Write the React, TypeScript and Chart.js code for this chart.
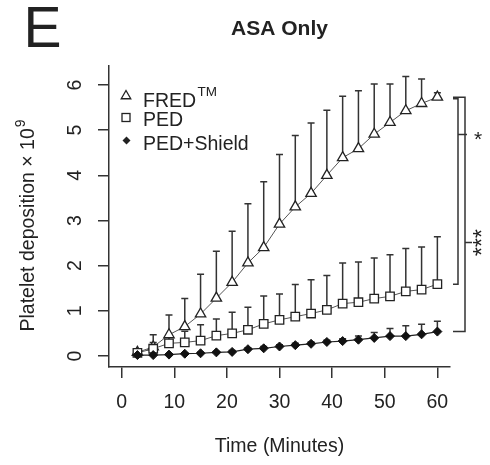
import React, { useEffect, useRef } from 'react';
import { Chart, registerables } from 'chart.js';

Chart.register(...registerables);

// ---- data ----
const times = [3, 6, 9, 12, 15, 18, 21, 24, 27, 30, 33, 36, 39, 42, 45, 48, 51, 54, 57, 60];
const fredMean = [0.08, 0.2, 0.47, 0.65, 0.93, 1.28, 1.63, 2.06, 2.4, 2.92, 3.3, 3.6, 4.0, 4.39, 4.59, 4.91, 5.17, 5.43, 5.59, 5.73];
const fredUpper = [0.15, 0.47, 0.91, 1.27, 1.81, 2.32, 2.76, 3.37, 3.86, 4.46, 4.88, 5.16, 5.44, 5.75, 5.87, 6.02, 6.02, 6.19, 6.13, 5.83];
const pedMean = [0.07, 0.16, 0.28, 0.3, 0.34, 0.45, 0.5, 0.58, 0.71, 0.8, 0.87, 0.94, 1.02, 1.16, 1.19, 1.27, 1.32, 1.43, 1.47, 1.59];
const pedUpper = [0.12, 0.3, 0.45, 0.55, 0.69, 0.82, 0.97, 1.08, 1.33, 1.37, 1.58, 1.69, 1.78, 2.06, 2.08, 2.17, 2.24, 2.38, 2.41, 2.64];
const shieldMean = [0.02, 0.02, 0.03, 0.05, 0.06, 0.08, 0.09, 0.15, 0.17, 0.21, 0.24, 0.27, 0.31, 0.33, 0.36, 0.4, 0.44, 0.44, 0.48, 0.54];
const shieldUpper = [0.03, 0.04, 0.05, 0.07, 0.08, 0.1, 0.12, 0.18, 0.21, 0.25, 0.28, 0.31, 0.35, 0.38, 0.44, 0.52, 0.61, 0.67, 0.7, 0.77];
const xTicks = [0, 10, 20, 30, 40, 50, 60];
const yTicks = [0, 1, 2, 3, 4, 5, 6];
const seriesNames = ['FRED', 'PED', 'PED+Shield'];
const fredSup = 'TM';
const panelLetter = 'E';
const chartTitle = 'ASA Only';
const xTitle = 'Time (Minutes)';
const yTitleMain = 'Platelet deposition \u00d7 10';
const yTitleSup = '9';
const sigInner = '*';
const sigOuter = '***';

const FONT = '"Liberation Sans", Arial, Helvetica, sans-serif';
const INK = '#222';
const uppers = [fredUpper, pedUpper, shieldUpper];

function tri(ctx: CanvasRenderingContext2D, x: number, y: number, r: number) {
  ctx.beginPath();
  ctx.moveTo(x, y - r);
  ctx.lineTo(x + r * Math.sin((2 * Math.PI) / 3), y + r * 0.5);
  ctx.lineTo(x - r * Math.sin((2 * Math.PI) / 3), y + r * 0.5);
  ctx.closePath();
}

const annotPlugin = {
  id: 'annot',
  beforeDatasetsDraw(chart: any) {
    const ctx = chart.ctx as CanvasRenderingContext2D;
    const xs = chart.scales.x;
    const ys = chart.scales.y;
    ctx.save();
    ctx.strokeStyle = '#333';
    ctx.lineWidth = 1.5;
    chart.data.datasets.forEach((ds: any, di: number) => {
      const up = uppers[di];
      ds.data.forEach((p: any, i: number) => {
        const x = xs.getPixelForValue(p.x);
        const y0 = ys.getPixelForValue(p.y);
        const y1 = ys.getPixelForValue(up[i]);
        ctx.beginPath();
        ctx.moveTo(x, y0);
        ctx.lineTo(x, y1);
        ctx.moveTo(x - 3.5, y1);
        ctx.lineTo(x + 3.5, y1);
        ctx.stroke();
      });
    });
    ctx.restore();
  },
  afterDraw(chart: any) {
    const ctx = chart.ctx as CanvasRenderingContext2D;
    const area = chart.chartArea;
    const ys = chart.scales.y;
    ctx.save();
    ctx.fillStyle = INK;
    ctx.strokeStyle = INK;
    // panel letter
    ctx.font = `57px ${FONT}`;
    ctx.textAlign = 'left';
    ctx.textBaseline = 'alphabetic';
    ctx.fillText(panelLetter, 23.5, 47);
    // title
    ctx.font = `bold 21px ${FONT}`;
    ctx.textAlign = 'center';
    ctx.fillText(chartTitle, (area.left + area.right) / 2, 35);
    // y title
    ctx.save();
    ctx.translate(34, 331.5);
    ctx.rotate(-Math.PI / 2);
    ctx.textAlign = 'left';
    ctx.font = `19.5px ${FONT}`;
    ctx.fillText(yTitleMain, 0, 0);
    const w = ctx.measureText(yTitleMain).width;
    ctx.font = `14px ${FONT}`;
    ctx.fillText(yTitleSup, w + 1, -9);
    ctx.restore();

    // legend
    ctx.lineWidth = 1.3;
    ctx.strokeStyle = INK;
    ctx.textAlign = 'left';
    ctx.font = `19.5px ${FONT}`;
    tri(ctx, 126, 96, 5.5);
    ctx.stroke();
    ctx.fillText(seriesNames[0], 143, 106.7);
    const fw = ctx.measureText(seriesNames[0]).width;
    ctx.font = `13.5px ${FONT}`;
    ctx.fillText(fredSup, 143 + fw + 1.5, 95.5);
    ctx.font = `19.5px ${FONT}`;
    ctx.strokeRect(122, 113.5, 8, 8);
    ctx.fillText(seriesNames[1], 143, 126);
    ctx.beginPath();
    ctx.moveTo(126.5, 136.5);
    ctx.lineTo(130.5, 140.5);
    ctx.lineTo(126.5, 144.5);
    ctx.lineTo(122.5, 140.5);
    ctx.closePath();
    ctx.fill();
    ctx.fillText(seriesNames[2], 143, 150);

    // significance brackets
    const n = times.length - 1;
    const yF = ys.getPixelForValue(fredMean[n]);
    const yP = ys.getPixelForValue(pedMean[n]);
    const yS = ys.getPixelForValue(shieldMean[n]);
    const x0 = area.right + 3;
    ctx.lineWidth = 1.5;
    ctx.strokeStyle = '#333';
    ctx.beginPath();
    // inner FRED vs PED
    ctx.moveTo(x0, yF + 1.5);
    ctx.lineTo(x0 + 5, yF + 1.5);
    ctx.lineTo(x0 + 5, yP);
    ctx.lineTo(x0, yP);
    const yMidI = yF + 0.2 * (yP - yF);
    ctx.moveTo(x0 + 5, yMidI);
    ctx.lineTo(x0 + 14, yMidI);
    // outer FRED vs Shield
    ctx.moveTo(x0, yF);
    ctx.lineTo(x0 + 12, yF);
    ctx.lineTo(x0 + 12, yS);
    ctx.lineTo(x0, yS);
    const yMidO = yF + 0.62 * (yS - yF);
    ctx.moveTo(x0 + 12, yMidO);
    ctx.lineTo(x0 + 19, yMidO);
    ctx.stroke();
    ctx.fillStyle = INK;
    ctx.font = `21px ${FONT}`;
    ctx.textAlign = 'center';
    ctx.textBaseline = 'alphabetic';
    ctx.fillText(sigInner, x0 + 25, yMidI + 11);
    ctx.save();
    ctx.translate(x0 + 37, yMidO);
    ctx.rotate(-Math.PI / 2);
    ctx.font = `23px ${FONT}`;
    ctx.fillText(sigOuter, 0, 0);
    ctx.restore();

    ctx.restore();
  },
};

export default function App() {
  const ref = useRef<HTMLCanvasElement | null>(null);
  useEffect(() => {
    if (!ref.current) return;
    Chart.defaults.font.family = FONT;
    const mk = (arr: number[]) => times.map((t, i) => ({ x: t, y: arr[i] }));
    const chart = new Chart(ref.current, {
      type: 'line',
      data: {
        datasets: [
          {
            label: seriesNames[0],
            data: mk(fredMean),
            borderColor: '#555',
            borderWidth: 1,
            pointStyle: 'triangle',
            pointRadius: 6,
            pointBackgroundColor: '#fff',
            pointBorderColor: INK,
            pointBorderWidth: 1.3,
            order: 3,
          },
          {
            label: seriesNames[1],
            data: mk(pedMean),
            borderColor: '#555',
            borderWidth: 1,
            pointStyle: 'rect',
            pointRadius: 6,
            pointBackgroundColor: '#fff',
            pointBorderColor: INK,
            pointBorderWidth: 1.3,
            order: 2,
          },
          {
            label: seriesNames[2],
            data: mk(shieldMean),
            borderColor: '#222',
            borderWidth: 1.2,
            pointStyle: 'rectRot',
            pointRadius: 4.5,
            pointBackgroundColor: '#111',
            pointBorderColor: '#111',
            pointBorderWidth: 1,
            order: 1,
          },
        ],
      },
      options: {
        responsive: false,
        animation: false,
        devicePixelRatio: 1,
        layout: { padding: { left: 0, right: 40, top: 66, bottom: 0 } },
        plugins: {
          legend: { display: false },
          title: { display: false },
          tooltip: { enabled: false },
        },
        scales: {
          x: {
            type: 'linear',
            min: -2.4,
            max: 62.4,
            afterBuildTicks: (s: any) => {
              s.ticks = xTicks.map((v) => ({ value: v }));
            },
            afterFit: (s: any) => {
              s.height = 98;
            },
            grid: { drawOnChartArea: false, drawTicks: true, tickLength: 11, color: '#333', lineWidth: 1.5 },
            border: { display: true, color: '#333', width: 1.5 },
            ticks: { color: INK, font: { size: 19.5 }, padding: 13, maxRotation: 0, minRotation: 0 },
            title: { display: true, text: xTitle, color: INK, font: { size: 19.5 }, padding: { top: 0, bottom: 7 } },
          },
          y: {
            type: 'linear',
            min: -0.244,
            max: 6.42,
            afterBuildTicks: (s: any) => {
              s.ticks = yTicks.map((v) => ({ value: v }));
            },
            afterFit: (s: any) => {
              s.width = 109;
            },
            grid: { drawOnChartArea: false, drawTicks: true, tickLength: 11, color: '#333', lineWidth: 1.5 },
            border: { display: true, color: '#333', width: 1.5 },
            ticks: { color: INK, font: { size: 19.5 }, padding: 17, minRotation: 90, maxRotation: 90, crossAlign: 'center' },
          },
        },
      },
      plugins: [annotPlugin],
    } as any);
    return () => chart.destroy();
  }, []);
  return (
    <div style={{ position: 'fixed', left: 0, top: 0, width: 490, height: 465, background: '#fff' }}>
      <canvas ref={ref} width={490} height={465} style={{ width: 490, height: 465, display: 'block' }} />
    </div>
  );
}
